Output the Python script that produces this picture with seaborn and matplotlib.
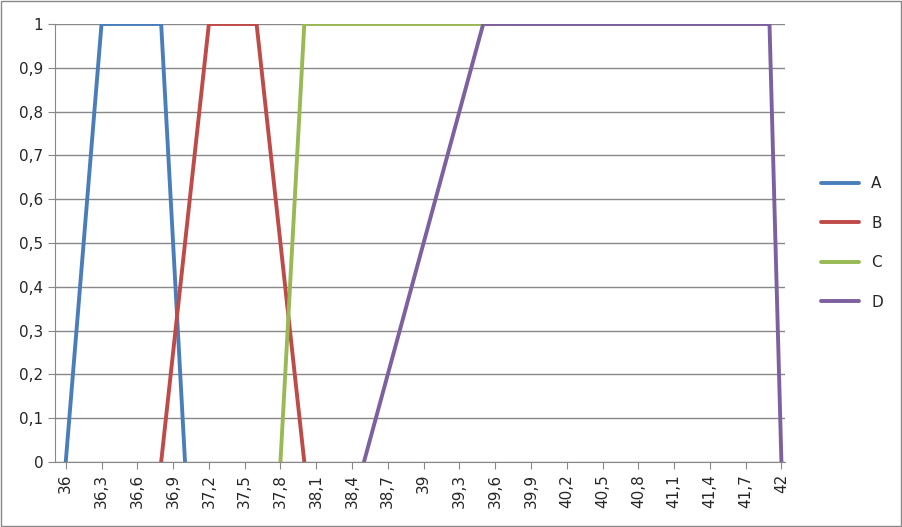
import matplotlib
matplotlib.use("Agg")
import matplotlib.pyplot as plt
import seaborn as sns
import pandas as pd
import numpy as np

A_x = [36.0, 36.3, 36.8, 37.0]; A_y = [0, 1, 1, 0]
B_x = [36.8, 37.2, 37.6, 38.0]; B_y = [0, 1, 1, 0]
C_x = [37.8, 38.0, 39.5]; C_y = [0, 1, 1]
D_x = [38.5, 39.5, 41.9, 42.0]; D_y = [0, 1, 1, 0]
names = ["A", "B", "C", "D"]
colors = ["#4A7EBB", "#BE4B48", "#98B954", "#7D60A0"]
tick_vals = [36 + 0.3 * i for i in range(21)]
tick_labels = [("%g" % round(v, 1)).replace(".", ",") for v in tick_vals]

rows = []
for n, xs, ys in zip(names, [A_x, B_x, C_x, D_x], [A_y, B_y, C_y, D_y]):
    for i, (x, y) in enumerate(zip(xs, ys)):
        rows.append({"s": n, "x": x, "y": y, "o": i})
df = pd.DataFrame(rows)

sns.set_style("white")
fig = plt.figure(figsize=(9.02, 5.27), dpi=100)
ax = fig.add_axes([55/902, 1-462/527, (785-55)/902, (462-24)/527])
sns.lineplot(data=df, x="x", y="y", hue="s", palette=colors, sort=False,
             estimator=None, units="o" if False else None, lw=2.8, ax=ax)
ax.set_xlim(35.91, 42.03)
ax.set_ylim(0, 1)
ax.set_yticks(np.arange(0, 1.01, 0.1))
ax.set_yticklabels([("%g" % round(v, 1)).replace(".", ",") for v in np.arange(0, 1.01, 0.1)], fontsize=11)
ax.set_xticks(tick_vals)
ax.set_xticklabels(tick_labels, rotation=90, fontsize=11)
ax.grid(axis="y", color="#888888", lw=1)
for s in ["top", "right"]:
    ax.spines[s].set_visible(False)
for s in ["left", "bottom"]:
    ax.spines[s].set_color("#888888")
ax.tick_params(axis="x", length=5, color="#888888", direction="out", bottom=True)
ax.tick_params(axis="y", length=5, color="#888888", direction="out", left=True)
ax.set_xlabel(""); ax.set_ylabel("")
h, l = ax.get_legend_handles_labels()
ax.legend(h, l, loc="center left", bbox_to_anchor=(1.03, 0.5), frameon=False,
          fontsize=11, handlelength=2.5, labelspacing=1.6)
fig.patches.append(plt.Rectangle((0.001, 0.001), 0.998, 0.997, transform=fig.transFigure,
                                 fill=False, ec="#888888", lw=1))
fig.savefig("out.png", dpi=100)
